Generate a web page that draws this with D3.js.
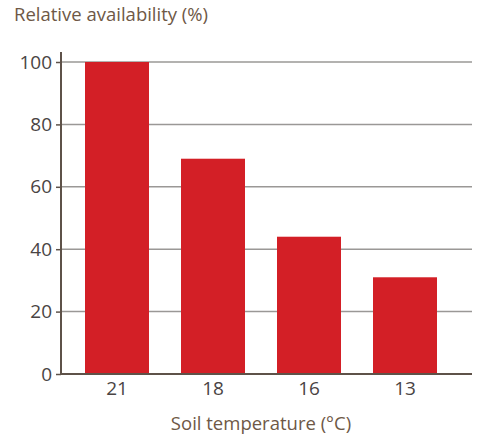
<!DOCTYPE html>
<html>
<head>
<meta charset="utf-8">
<script src="https://cdn.jsdelivr.net/npm/d3@7"></script>
<style>
  body { margin: 0; background: #fff; }
  text { font-family: "Open Sans", sans-serif; }
</style>
</head>
<body>
<div id="chart"></div>
<script>
// soil temperature vs relative availability
var temps = ["21", "18", "16", "13"];
var availability = [100, 69, 44, 31];
var yTicks = [0, 20, 40, 60, 80, 100];

(function(){
    'use strict';
    var width = 500, height = 443;
    var left = 61, right = 461, gridEnd = 472, plotTop = 62, bottom = 374;

    var svg = d3.select("#chart").append("svg")
        .attr("width", width)
        .attr("height", height);

    var x = d3.scaleBand()
        .domain(temps)
        .range([left, right])
        .paddingInner(1 / 3)
        .paddingOuter(0.25);

    var y = d3.scaleLinear()
        .domain([0, 100])
        .range([bottom, plotTop]);

    // gridlines
    svg.append("g").selectAll("line")
        .data(yTicks.filter(function(d){ return d > 0; }))
        .enter().append("line")
        .attr("x1", left).attr("x2", gridEnd)
        .attr("y1", function(d){ return y(d); })
        .attr("y2", function(d){ return y(d); })
        .attr("stroke", "#9a9896")
        .attr("stroke-width", 1.5);

    // bars
    svg.append("g").selectAll("rect")
        .data(availability)
        .enter().append("rect")
        .attr("x", function(d, i){ return x(temps[i]); })
        .attr("y", function(d){ return y(d); })
        .attr("width", x.bandwidth())
        .attr("height", function(d){ return y(0) - y(d); })
        .attr("fill", "#d31f26");

    // y axis
    var yAxis = svg.append("g")
        .attr("transform", "translate(" + left + ",0)")
        .call(d3.axisLeft(y).tickValues(yTicks).tickSize(5).tickPadding(4));
    yAxis.select(".domain").remove();
    yAxis.append("line")
        .attr("x1", 0).attr("x2", 0)
        .attr("y1", 52).attr("y2", bottom)
        .attr("stroke", "#5e5249").attr("stroke-width", 2);
    yAxis.selectAll(".tick line").attr("stroke", "#5e5249").attr("stroke-width", 1.5);
    yAxis.selectAll(".tick text")
        .attr("fill", "#4a4444")
        .style("font-size", "19px");

    // x axis
    var xAxis = svg.append("g")
        .attr("transform", "translate(0," + bottom + ")")
        .call(d3.axisBottom(x).tickSize(0).tickPadding(8));
    xAxis.select(".domain").remove();
    xAxis.append("line")
        .attr("x1", left).attr("x2", gridEnd)
        .attr("y1", 0).attr("y2", 0)
        .attr("stroke", "#5e5249").attr("stroke-width", 2);
    xAxis.selectAll(".tick text")
        .attr("fill", "#4a4444")
        .style("font-size", "19px");

    // titles
    svg.append("text")
        .attr("x", 14).attr("y", 21)
        .attr("fill", "#6e5846")
        .style("font-size", "18.5px")
        .text("Relative availability (%)");

    svg.append("text")
        .attr("x", 261).attr("y", 430)
        .attr("text-anchor", "middle")
        .attr("fill", "#6e5846")
        .style("font-size", "18.5px")
        .text("Soil temperature (°C)");
}());
</script>
</body>
</html>
